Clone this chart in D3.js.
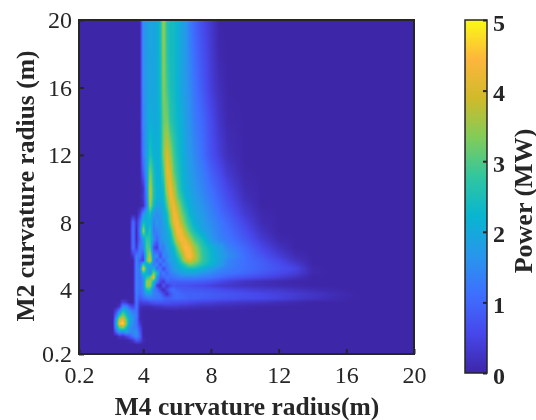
<!DOCTYPE html>
<html lang="en">
	<head>
		<meta charset="utf-8">
		<title>Power map</title>
		<script type="text/javascript" src="https://cdn.jsdelivr.net/npm/d3@7"></script>
		<style type="text/css">
			html, body { margin: 0; padding: 0; background: white; }
			#wrap { position: relative; width: 536px; height: 420px; overflow: hidden; }
			canvas, svg { position: absolute; left: 0; top: 0; }
			canvas { filter: blur(0.6px); }
		</style>
	</head>
	<body>
		<div id="wrap"></div>
		<script type="text/javascript">
			// grid: M4 radius along x, M2 radius along y, power in MW
			const m4 = [2.2,2.4,2.6,2.8,3,3.2,3.4,3.6,3.8,4,4.2,4.4,4.6,4.8,5,5.2,5.4,5.6,5.8,6,6.25,6.5,6.75,7,7.5,8,8.5,9,10,11,12,13,14,15,16,17];
			const m2 = [20,18,16,14,12,11,10,9.5,9,8.5,8,7.5,7,6.5,6,5.75,5.5,5.25,5,4.75,4.5,4.25,4,3.75,3.5,3.25,3,2.75,2.5,2.25,2,1.75,1.5,1.25,1,0.75];
			const power = [
				[0,0,0,0,0,0,0,0,0,1.6,1.7,1.9,1.9,2,2.4,3.6,2.6,2.4,2.4,2.2,1.9,1.7,1.3,1,.6,.3,0,0,0,0,0,0,0,0,0,0],
				[0,0,0,0,0,0,0,0,0,1.6,1.7,1.9,1.9,2,2.4,3.5,2.7,2.4,2.4,2.2,1.9,1.7,1.4,1.1,.7,.35,.05,0,0,0,0,0,0,0,0,0],
				[0,0,0,0,0,0,0,0,0,1.6,1.7,2,1.9,2,2.4,3.4,2.9,2.5,2.4,2.2,1.9,1.7,1.5,1.2,.8,.4,.15,0,0,0,0,0,0,0,0,0],
				[0,0,0,0,0,0,0,0,0,1.5,1.7,2.2,2,2,2.3,3.2,3.3,2.7,2.5,2.3,2.1,1.8,1.6,1.3,1,.6,.25,.05,0,0,0,0,0,0,0,0],
				[0,0,0,0,0,0,0,0,0,1.3,1.8,2.6,2.2,2.1,2.3,3.3,4.1,3.5,2.9,2.5,2.2,1.9,1.7,1.5,1.1,.7,.4,.15,0,0,0,0,0,0,0,0],
				[0,0,0,0,0,0,0,0,0,.9,1.8,3.3,2.5,2.1,2.2,2.9,4.2,4,3.1,2.7,2.3,2,1.8,1.6,1.3,.9,.6,.3,.02,0,0,0,0,0,0,0],
				[0,0,0,0,0,0,0,0,0,.2,1.6,3.9,2.6,2.2,2.2,2.4,3.8,4.3,3.7,3,2.4,2.1,1.9,1.7,1.4,1.1,.8,.5,.1,0,0,0,0,0,0,0],
				[0,0,0,0,0,0,0,0,0,.3,1.4,3.9,2.6,2.2,2.1,2.3,3.3,4.3,4,3.2,2.7,2.2,2,1.8,1.5,1.2,.9,.6,.15,0,0,0,0,0,0,0],
				[0,0,0,0,0,0,0,0,0,.1,1.3,3.6,2.4,1.9,1.9,2.1,2.9,4,4.3,3.7,3,2.4,2.1,1.9,1.6,1.3,1,.7,.25,0,0,0,0,0,0,0],
				[0,0,0,0,0,0,0,0,.4,1.6,2,2.5,1.7,1.5,1.7,2,2.4,3.5,4.4,4.1,3.3,2.8,2.2,2,1.7,1.4,1.1,.85,.35,.05,0,0,0,0,0,0],
				[0,0,0,0,0,0,1.1,.2,1,2.4,2.1,2.2,1.4,1.7,1.5,1.9,2.2,3.2,4.2,4.4,3.7,3,2.6,2.1,1.8,1.5,1.25,1,.5,.1,0,0,0,0,0,0],
				[0,0,0,0,0,0,1.2,.1,1.2,3.6,2,2.6,1.2,1.4,1.6,1.7,2,2.5,3.6,4.4,4.3,3.5,2.9,2.5,1.9,1.6,1.3,1.1,.65,.2,0,0,0,0,0,0],
				[0,0,0,0,0,0,1.2,.1,1,1.8,2.8,2.6,1.6,1,1.5,1.7,1.9,2.2,3,4,4.4,4.2,3.6,3,2.4,1.7,1.4,1.2,.8,.35,.05,0,0,0,0,0],
				[0,0,0,0,0,0,1.2,.3,1.3,1.4,3,2.9,.8,.3,1.4,1.3,1.8,2,2.3,3.1,4,4.5,4.3,3.6,2.7,2.2,1.8,1.4,1,.55,.2,0,0,0,0,0],
				[0,0,0,0,0,0,.3,1.3,1.2,.6,2.8,3.8,1.4,1.6,.5,1.5,1.4,1.9,2,2.5,3.2,4.2,4.5,3.9,2.8,2.3,1.9,1.6,1.1,.75,.4,.1,0,0,0,0],
				[0,0,0,0,0,0,0,1.4,.8,.3,3,4.2,1.5,.9,1.4,.8,1.5,1.8,1.9,2.2,2.9,3.8,4.1,3.7,2.8,2.3,1.9,1.4,1.1,.85,.55,.2,0,0,0,0],
				[0,0,0,0,0,0,0,1.4,1,2.8,2,2.2,1.3,1.5,.7,1.4,1.2,1.6,1.8,2,2.4,2.8,3.3,3.1,2.6,2.2,1.8,1.4,1.1,.9,.65,.35,0,0,0,0],
				[0,0,0,0,0,0,0,1.4,1.2,4.3,2.3,1.5,2.3,1,1.4,.5,1.2,1.5,1.7,1.9,2.1,2.3,2.4,2.4,2.1,1.8,1.5,1.3,1.1,.9,.7,.5,.05,0,0,0],
				[0,0,0,0,0,0,0,1.4,1.1,2.6,2.1,1.6,3.2,2.6,1,1.3,.9,1.3,1.5,1.6,1.8,1.9,1.9,1.9,1.7,1.5,1.3,1.2,1,.8,.6,.4,.05,0,0,0],
				[0,0,0,0,0,0,0,1.4,1.1,1.6,2.6,3,4.4,1.8,.9,1,1.2,1.1,1.2,1.3,1.4,1.4,1.4,1.4,1.3,1.2,1.05,.9,.7,.55,.4,.2,0,0,0,0],
				[0,0,0,0,0,0,0,1.4,1.1,1.5,3.4,3.6,2.4,1.4,.6,.3,1,.9,.9,.9,.9,.9,.9,.9,.85,.75,.6,.45,.25,.15,.08,.02,0,0,0,0],
				[0,0,0,0,0,0,0,1.4,1.1,1.5,3.5,3.4,2,.4,.1,.8,.3,.6,.8,.7,.7,.7,.65,.6,.55,.45,.35,.3,.2,.15,.1,.05,0,0,0,0],
				[0,0,0,0,0,0,0,1.4,1.1,1.4,2.5,2.6,1.3,1.2,.5,.1,.6,1,1.1,.9,.85,.8,.8,.8,.75,.7,.65,.55,.45,.35,.3,.2,.12,.05,0,0],
				[0,0,0,0,0,0,0,1.3,1,1.3,1.8,1.8,1.4,1.3,1.1,.6,.15,.7,1,1.1,1,.95,.9,.9,.9,.85,.8,.75,.65,.55,.45,.35,.25,.15,.05,0],
				[0,0,0,0,0,0,0,1.3,.8,1,1.2,1.3,1.2,1.2,1.2,1,.9,.9,1,1,1,.95,.9,.9,.85,.8,.75,.7,.6,.55,.45,.32,.22,.12,.04,0],
				[0,0,0,.5,.3,0,0,1.2,.4,.5,.5,.6,.7,.75,.75,.75,.7,.7,.65,.65,.6,.6,.55,.5,.45,.4,.35,.3,.25,.2,.12,.05,0,0,0,0],
				[0,0,.3,1.5,1.4,.8,.5,1.2,.2,.1,.1,.1,.15,.2,.2,.25,.3,.3,.3,.3,.25,.25,.2,.2,.15,.15,.1,.1,.05,0,0,0,0,0,0,0],
				[0,.5,1.4,2.5,2,1.5,1.2,1.2,.1,0,0,0,0,0,0,0,0,0,0,0,0,0,0,0,0,0,0,0,0,0,0,0,0,0,0,0],
				[0,1,2.5,3.3,2.5,1.8,1.5,1.3,.1,0,0,0,0,0,0,0,0,0,0,0,0,0,0,0,0,0,0,0,0,0,0,0,0,0,0,0],
				[0,1.7,3.8,4.2,3,2,1.6,1.2,.1,0,0,0,0,0,0,0,0,0,0,0,0,0,0,0,0,0,0,0,0,0,0,0,0,0,0,0],
				[0,2,4.4,4.8,3.2,1.9,1.5,1.2,.3,0,0,0,0,0,0,0,0,0,0,0,0,0,0,0,0,0,0,0,0,0,0,0,0,0,0,0],
				[0,1.6,3,3.3,2.4,1.6,1.4,1.3,.6,0,0,0,0,0,0,0,0,0,0,0,0,0,0,0,0,0,0,0,0,0,0,0,0,0,0,0],
				[0,.9,1.7,1.5,1.9,1.5,1.5,1.6,.8,0,0,0,0,0,0,0,0,0,0,0,0,0,0,0,0,0,0,0,0,0,0,0,0,0,0,0],
				[0,0,.3,.2,.5,.8,1.2,1.5,1,0,0,0,0,0,0,0,0,0,0,0,0,0,0,0,0,0,0,0,0,0,0,0,0,0,0,0],
				[0,0,0,0,0,.1,.3,.8,.6,.1,0,0,0,0,0,0,0,0,0,0,0,0,0,0,0,0,0,0,0,0,0,0,0,0,0,0],
				[0,0,0,0,0,0,0,0,0,0,0,0,0,0,0,0,0,0,0,0,0,0,0,0,0,0,0,0,0,0,0,0,0,0,0,0]
			];
			const axisTicks = [0.2, 4, 8, 12, 16, 20];
			const yTicks = [0.2, 4, 8, 12, 16, 20];
			const powerTicks = [0, 1, 2, 3, 4, 5];
			const parula = ["#3e26a8", "#4747eb", "#3e6fff", "#2797eb", "#08b5d0", "#31c69f", "#81cc59", "#d0ba2a", "#fdb63c", "#f9fb14"];

			let w = 536;
			let h = 420;
			const plotL = 79, plotR = 414, plotT = 20, plotB = 354;

			let color = d3.scaleLinear(d3.range(10).map(i => i * 5 / 9), parula).clamp(true);
			let x = d3.scaleLinear([0.2, 20], [plotL, plotR]);
			let y = d3.scaleLinear([0.2, 20], [plotB, plotT]);

			let wrap = d3.select("#wrap");
			let canvas = wrap.append("canvas").attr("width", w).attr("height", h);
			let ctx = canvas.node().getContext("2d");

			// same as shading interp: linear between the grid nodes
			const m2Up = m2.slice().reverse();
			const valueAt = (mx, my) => {
				if (mx <= m4[0] || mx >= m4[m4.length - 1] || my <= m2Up[0]) return 0;
				my = Math.min(my, m2Up[m2Up.length - 1] - 1e-6);
				const i = d3.bisectRight(m4, mx) - 1;
				const j = d3.bisectRight(m2Up, my) - 1;
				const tx = (mx - m4[i]) / (m4[i + 1] - m4[i]);
				const ty = (my - m2Up[j]) / (m2Up[j + 1] - m2Up[j]);
				const r0 = power[m2.length - 1 - j], r1 = power[m2.length - 2 - j];
				return (r0[i] * (1 - tx) + r0[i + 1] * tx) * (1 - ty) + (r1[i] * (1 - tx) + r1[i + 1] * tx) * ty;
			};
			for (let py = plotT; py < plotB; py++) {
				for (let px = plotL; px < plotR; px++) {
					ctx.fillStyle = color(valueAt(x.invert(px + 0.5), y.invert(py + 0.5)));
					ctx.fillRect(px, py, 1, 1);
				}
			}

			// colorbar
			let barY = d3.scaleLinear([0, 5], [373, 20]);
			for (let py = 20; py < 373; py++) {
				ctx.fillStyle = color(barY.invert(py + 0.5));
				ctx.fillRect(465, py, 22, 1);
			}

			let svg = wrap.append("svg").attr("width", w).attr("height", h);

			const dark = "#262626";
			const styleAxis = (g, size) => {
				g.attr("font-family", "'Liberation Serif'").attr("font-size", size);
				g.select(".domain").remove();
				g.selectAll("line").attr("stroke", dark).attr("stroke-width", 2);
				g.selectAll("text").attr("fill", dark);
			};

			svg.append("g")
				.attr("transform", `translate(0,${plotB})`)
				.call(d3.axisBottom(x).tickValues(axisTicks).tickFormat(d => d).tickSizeInner(-5).tickSizeOuter(0).tickPadding(12))
				.call(g => styleAxis(g, 24));

			svg.append("g")
				.attr("transform", `translate(${plotL},0)`)
				.call(d3.axisLeft(y).tickValues(yTicks).tickFormat(d => d).tickSizeInner(-5).tickSizeOuter(0).tickPadding(7))
				.call(g => styleAxis(g, 24));

			svg.append("rect")
				.attr("x", plotL).attr("y", plotT)
				.attr("width", plotR - plotL).attr("height", plotB - plotT)
				.attr("fill", "none").attr("stroke", dark).attr("stroke-width", 2);

			svg.append("text")
				.text("M4 curvature radius(m)")
				.attr("x", 247).attr("y", 415)
				.attr("text-anchor", "middle")
				.attr("font-family", "'Liberation Serif'").attr("font-weight", "bold")
				.attr("font-size", 25.5).attr("fill", dark);

			svg.append("text")
				.text("M2 curvature radius (m)")
				.attr("transform", "translate(34,186) rotate(-90)")
				.attr("text-anchor", "middle")
				.attr("font-family", "'Liberation Serif'").attr("font-weight", "bold")
				.attr("font-size", 25.5).attr("fill", dark);

			// colorbar axis
			svg.append("g")
				.attr("transform", "translate(487,0)")
				.call(d3.axisRight(barY).tickValues(powerTicks).tickFormat(d => d).tickSizeInner(-4).tickSizeOuter(0).tickPadding(6))
				.call(g => {
					styleAxis(g, 24);
					g.selectAll("text").attr("font-weight", "bold").attr("dy", "0.42em");
				});

			svg.append("rect")
				.attr("x", 465).attr("y", 20)
				.attr("width", 22).attr("height", 353)
				.attr("fill", "none").attr("stroke", dark).attr("stroke-width", 1.5);

			svg.append("text")
				.text("Power (MW)")
				.attr("transform", "translate(532,201) rotate(-90)")
				.attr("text-anchor", "middle")
				.attr("font-family", "'Liberation Serif'").attr("font-weight", "bold")
				.attr("font-size", 26).attr("fill", dark);
		</script>
	</body>
</html>
